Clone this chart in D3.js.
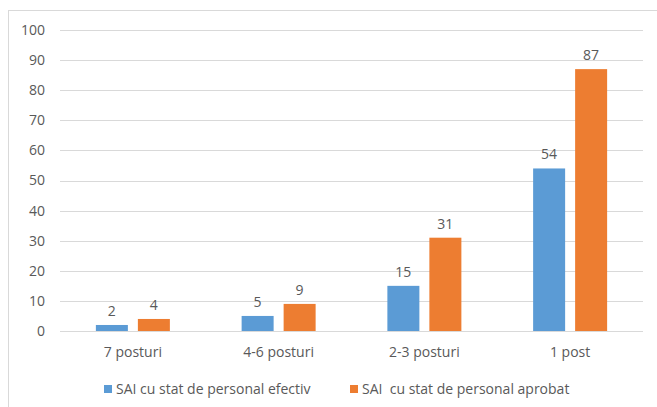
<!DOCTYPE html>
<html>
<head>
<meta charset="utf-8">
<script src="https://cdn.jsdelivr.net/npm/d3@7"></script>
<style>
  body { margin: 0; background: #fff; }
  svg { display: block; font-family: "Open Sans", sans-serif; }
</style>
</head>
<body>
<div id="chart"></div>
<script>
const categories = ['7 posturi', '4-6 posturi', '2-3 posturi', '1 post'];
const efectiv = [2, 5, 15, 54];
const aprobat = [4, 9, 31, 87];
const seriesNames = ['SAI cu stat de personal efectiv', 'SAI  cu stat de personal aprobat'];
const yTicks = [0, 10, 20, 30, 40, 50, 60, 70, 80, 90, 100];

const width = 657, height = 407;
const colors = ['#5B9BD5', '#ED7D31'];
const textColor = '#595959';
const fs = 14;

const svg = d3.select('#chart').append('svg')
  .attr('width', width)
  .attr('height', height);

// chart frame
svg.append('rect')
  .attr('x', 8.5).attr('y', 10.5)
  .attr('width', 660).attr('height', 410)
  .attr('fill', 'none')
  .attr('stroke', '#d9d9d9');

const x = d3.scaleBand().domain(categories).range([60, 643]);
const y = d3.scaleLinear().domain([0, 100]).range([331, 30]);

// gridlines
svg.append('g')
  .selectAll('line')
  .data(yTicks)
  .join('line')
  .attr('x1', 60).attr('x2', 643)
  .attr('y1', d => Math.round(y(d)) + 0.5)
  .attr('y2', d => Math.round(y(d)) + 0.5)
  .attr('stroke', '#d9d9d9');

// y labels
svg.append('g')
  .selectAll('text')
  .data(yTicks)
  .join('text')
  .attr('x', 45)
  .attr('y', d => y(d))
  .attr('dy', '0.35em')
  .attr('text-anchor', 'end')
  .attr('font-size', fs)
  .attr('fill', textColor)
  .text(d => d);

const barW = 32, gap = 10;
const sub = d3.scaleOrdinal().domain([0, 1]).range([-(barW + gap / 2), gap / 2]);

[efectiv, aprobat].forEach((vals, s) => {
  const g = svg.append('g');
  g.selectAll('rect')
    .data(vals)
    .join('rect')
    .attr('x', (d, i) => x(categories[i]) + x.bandwidth() / 2 + sub(s))
    .attr('y', d => y(d))
    .attr('width', barW)
    .attr('height', d => y(0) - y(d))
    .attr('fill', colors[s]);
  g.selectAll('text')
    .data(vals)
    .join('text')
    .attr('x', (d, i) => x(categories[i]) + x.bandwidth() / 2 + sub(s) + barW / 2)
    .attr('y', d => y(d) - 9)
    .attr('text-anchor', 'middle')
    .attr('font-size', fs)
    .attr('fill', textColor)
    .text(d => d);
});

// category labels
svg.append('g')
  .selectAll('text')
  .data(categories)
  .join('text')
  .attr('x', d => x(d) + x.bandwidth() / 2)
  .attr('y', 352)
  .attr('dy', '0.35em')
  .attr('text-anchor', 'middle')
  .attr('font-size', fs)
  .attr('fill', textColor)
  .text(d => d);

// legend
const legendX = [104, 350];
const leg = svg.append('g')
  .selectAll('g')
  .data(seriesNames)
  .join('g')
  .attr('transform', (d, i) => `translate(${legendX[i]},389)`);
leg.append('rect')
  .attr('x', 0).attr('y', -4)
  .attr('width', 8).attr('height', 8)
  .attr('fill', (d, i) => colors[i]);
leg.append('text')
  .attr('x', 12)
  .attr('dy', '0.35em')
  .attr('font-size', fs)
  .attr('fill', textColor)
  .style('white-space', 'pre')
  .text(d => d);
</script>
</body>
</html>
